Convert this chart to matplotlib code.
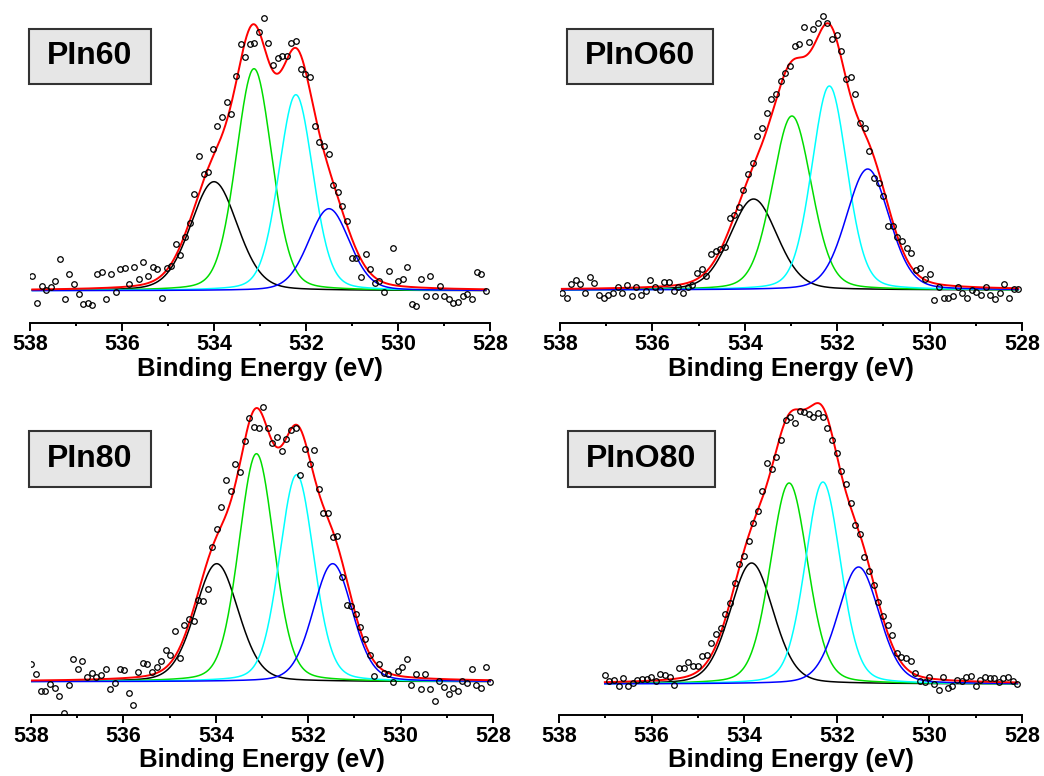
import numpy as np
import matplotlib
matplotlib.use("Agg")
import matplotlib.pyplot as plt
from matplotlib.patches import Rectangle

plt.rcParams['font.family'] = ['Liberation Sans', 'DejaVu Sans']

names = ["PIn60", "PInO60", "PIn80", "PInO80"]

# energy grid of each scan (eV), start / end of the recorded range
e_start = [537.95, 537.96, 537.99, 537.01]
e_end = [528.09, 528.08, 528.06, 528.10]

# measured counts (arb. units, baseline removed)
y_pin60 = [14.7, -12, 5, 0.7, 4, 10, 32, -8.7, 16.3, 6.7, -3, -13.3, -12, -14.7, 16.3,
           18.7, -8.7, 16.3, -1.3, 22, 22.3, 6.7, 24, 12, 28.7, 15, 24, 21.3, -7, 22.3,
           24.3, 47, 35.7, 54, 67.3, 96.3, 135, 116.7, 119, 141.3, 164.7, 174, 188.3, 176.3,
           214.7, 246.7, 233.3, 247, 248, 258.7, 273, 248, 225.7, 232.3, 235, 235, 248, 249.3,
           221.3, 216.7, 213.3, 165, 149, 145, 136.7, 105.3, 99, 85, 69.7, 32.3, 32.3, 13.3,
           36.3, 21.3, 8, 10, -1.7, 19.7, 43, 10, 11.3, 24, -13.3, -15.3, 11.3, -5.3, 14.7,
           -5.3, 4.7, -5.3, -8.7, -12, -11, -5.3, -3.3, -8.7, 18.7, 16.3, -0.3]
y_pino60 = [-2.7, -7.7, 6, 10, 6, -3.3, 12.7, 7.3, -4.7, -7.7, -4.7, -3.3, 3.3, -3.3, 5,
            -6, 2.7, -4.7, -1.3, 10, 3.3, 0, 8, 8, -0.7, 3.3, -3.3, 2.7, 5, 17.3, 20.7, 14,
            36, 39.3, 40.7, 43.3, 71.7, 75, 83.3, 100, 116, 127.3, 154, 161.7, 176.7, 190.7,
            195.7, 208.7, 216.7, 224, 244, 246, 263.3, 248.3, 260.7, 266.7, 274, 266.7, 250.7,
            254.7, 238.7, 211, 212.7, 195.7, 167.3, 161.7, 139.3, 111.7, 107.3, 94, 64, 64,
            52.7, 49.3, 41.7, 37.3, 20, 22.3, 10.7, 15.7, -10, 2.7, -8.3, -8.3, -6, 2.7, -3.3,
            -8.3, 0, -1.7, -5, 2.7, -5, -9.3, -2.7, 6, -8, 0.7, 0.7]
y_pin80 = [17.7, 7.7, -9.3, -9.3, -2.3, -6, -14.3, -31, -3, 22.3, 12.3, 20.7, 4.3, 9, 4.3,
           6.7, 13, -7.7, -1.7, 13, 11.7, -11, -23.3, 9.7, 19, 17.3, 10, 15, 21, 31.7, 26.7,
           50.3, 24, 56.7, 63, 60.7, 81.7, 81, 92.3, 135, 152.3, 175, 201.7, 191, 217.7, 210,
           241, 263.3, 255, 253.3, 275, 253.7, 239, 244.3, 230.7, 242.7, 251.7, 254, 206.7,
           232.3, 217.7, 231.7, 192.3, 169, 169, 144.3, 146, 105, 76.7, 76, 67.3, 55, 42.3,
           26.7, 5.7, 17.7, 9, 7.7, -0.7, 11, 14.3, 22.3, -3.3, 7.3, -7.3, 7.3, -7.7, -19,
           0.7, -5, -12.3, -6.7, -9.3, 1, -1.7, 13, -3.3, -6, 14.3, 0]
y_pino80 = [9, 3.3, 4, -2, 5.7, -2, 1.3, 4, 4.7, 5.3, 6.7, 3.3, 10, 9, 6.7, -1, 15.7, 15.7,
            21.7, 18, 18, 28, 29, 41.3, 50, 55.7, 70, 81.3, 100.7, 120, 128, 143.3, 161.3,
            173.3, 193.3, 221.3, 214.7, 227.3, 244, 264, 267.3, 261.3, 273.3, 272.3, 270,
            267.3, 271.3, 267.3, 255.7, 244, 231.3, 213.3, 200, 180.7, 159, 150, 127.3, 113.3,
            99, 82.3, 68, 59, 49, 30.7, 27.3, 25.7, 23.3, 11.3, 3.3, 2.3, 6.7, 0, -6, 7.3,
            -3.7, -2, 4, 3.3, 6.7, 8, -2, 4, 6.7, 5.7, 5.7, 2.3, 5.7, 6.7, 3.3, 0]
counts = [y_pin60, y_pino60, y_pin80, y_pino80]

# fitted components: black, green, cyan, blue  (centre eV, height, FWHM eV)
centres = [[534.00, 533.13, 532.22, 531.50],
           [533.81, 532.98, 532.17, 531.34],
           [533.98, 533.12, 532.25, 531.47],
           [533.84, 533.03, 532.30, 531.53]]
heights = [[109, 222, 196, 82],
           [91, 174, 204, 121],
           [118, 228, 207, 118],
           [121, 201, 202, 117]]
fwhms = [[1.20, 0.92, 0.88, 1.05],
         [1.20, 1.00, 0.90, 1.10],
         [1.10, 0.90, 0.88, 1.00],
         [1.10, 0.95, 0.90, 1.05]]
eta = 0.2  # lorentzian fraction of the pseudo-voigt
comp_colors = ["black", "#00dd00", "#00ffff", "#0000ff"]


def pvoigt(x, c, h, w):
    g = np.exp(-4 * np.log(2) * ((x - c) / w) ** 2)
    l = 1 / (1 + 4 * ((x - c) / w) ** 2)
    return h * ((1 - eta) * g + eta * l)


# panel placement in pixels: x of 538, x of 528, y of axis line, y of baseline
layout = [(30, 490, 323, 290.7),
          (560, 1022, 323, 290.0),
          (31, 493, 715, 681.7),
          (559, 1022, 715, 684.0)]
# label boxes in pixels: x0, y0, x1, y1
boxes = [(29, 29, 151, 84), (567, 29, 713, 84), (29, 431, 151, 487), (568, 431, 715, 487)]

W, H = 1044, 776
fig = plt.figure(figsize=(W / 100, H / 100), dpi=100)

for i in range(4):
    x0, x1, ys, yb = layout[i]
    top = ys - 320
    ax = fig.add_axes([x0 / W, 1 - ys / H, (x1 - x0) / W, 320 / H])
    ax.set_xlim(538, 528)
    ax.set_ylim(yb - ys, yb - top)
    e = np.linspace(e_start[i], e_end[i], len(counts[i]))
    xf = np.linspace(e_start[i], e_end[i], 600)
    total = np.zeros_like(xf)
    for c, h, w, col in zip(centres[i], heights[i], fwhms[i], comp_colors):
        comp = pvoigt(xf, c, h, w)
        total += comp
        ax.plot(xf, comp, color=col, lw=1.1, zorder=2)
    ax.plot(xf, total, color="#ff0000", lw=1.4, zorder=3)
    ax.plot(e, counts[i], "o", mfc="none", mec="black", ms=4, mew=0.9, zorder=4)

    for s in ["left", "right", "top"]:
        ax.spines[s].set_visible(False)
    ax.spines["bottom"].set_linewidth(1.4)
    ax.set_yticks([])
    ax.set_xticks([538, 536, 534, 532, 530, 528])
    ax.set_xticks([537, 535, 533, 531, 529], minor=True)
    ax.tick_params(axis="x", which="major", direction="out", length=5.5, width=1.4,
                   pad=2.5, labelsize=15.5)
    ax.tick_params(axis="x", which="minor", direction="out", length=2.5, width=1.4)
    for lab in ax.get_xticklabels():
        lab.set_fontweight("bold")
    ax.set_xlabel("Binding Energy (eV)", fontsize=18.5, fontweight="bold", labelpad=1)

    bx0, by0, bx1, by1 = boxes[i]
    fig.patches.append(Rectangle((bx0 / W, 1 - by1 / H), (bx1 - bx0) / W, (by1 - by0) / H,
                                 transform=fig.transFigure, facecolor="#e6e6e6",
                                 edgecolor="#333333", lw=1.5))
    fig.text((bx0 + bx1) / 2 / W, 1 - (by0 + by1) / 2 / H, names[i], ha="center",
             va="center", fontsize=23, fontweight="bold")

fig.savefig("out.png", dpi=100)
